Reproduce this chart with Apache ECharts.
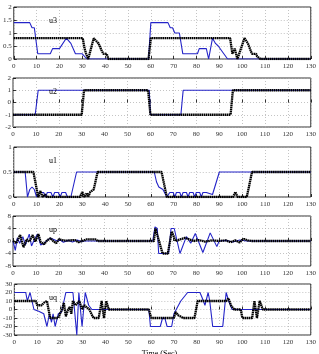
<!DOCTYPE html>
<html>
<head>
<meta charset="utf-8">
<script src="https://cdn.jsdelivr.net/npm/echarts@6/dist/echarts.min.js"></script>
<style>
  html, body { margin: 0; padding: 0; background: #fff; }
  #chart { width: 319px; height: 354px; }
</style>
</head>
<body>
<div id="chart"></div>
<script>
// time axis, seconds
var timeTicks = [0, 10, 20, 30, 40, 50, 60, 70, 80, 90, 100, 110, 120, 130];

// u3 : blue = reference, black = dotted response
var u3Blue = [[0,1.4],[7,1.4],[8,1.2],[9,1.2],[10.5,0.2],[16,0.2],[17,0.4],[20,0.4],[23,0.8],[25,0.6],[27,0.2],[30,0.2],[32,0],[59,0],[60,1.4],[67.5,1.4],[68.5,1.2],[69.5,1.2],[70.5,1.0],[72.5,1.0],[74,0.2],[80.4,0.2],[81.2,0.4],[84.3,0.4],[85.3,0],[87,0.8],[88.3,0.6],[89.5,0.5],[93.6,0],[130,0]];
var u3Black = [[0,0.8],[30.2,0.8],[31,0.4],[31.7,0.2],[32.6,0],[35,0.8],[35.5,0.85],[37.1,0.6],[38.6,0.3],[39.3,0.2],[40.7,0.2],[41.4,0],[59,0],[60,0.8],[94.7,0.8],[95.7,0.2],[96.7,0.4],[97.9,0],[101,0.8],[102.5,0.6],[103.8,0.3],[104.3,0.2],[106.1,0.2],[106.5,0.1],[108,0],[130,0]];

// u2
var u2Blue = [[0,-1],[9.7,-1],[11,1],[59.5,1],[60,-1],[73.3,-1],[74.3,1],[130,1]];
var u2Black = [[0,-1],[30,-1],[31,1],[59,1],[60,-1],[95,-1],[96,1],[130,1]];

// u1
var u1Blue = [[0,0.5],[5,0.5],[6,0],[7,0.15],[8,0.2],[9,0.15],[10,0],[10.7,0],[11.5,0.09],[12.3,0.12],[13.1,0.09],[13.9,0],[14.7,0.09],[15.5,0.12],[16.3,0.09],[17.1,0],[17.9,0.09],[18.7,0.12],[19.5,0.09],[20.3,0],[21.1,0.09],[21.9,0.12],[22.7,0.09],[23.5,0],[25,0],[27.5,0.5],[61.5,0.5],[62.5,0.3],[63.5,0.2],[65.3,0.15],[67,0],[67.6,0],[68.3,0.09],[69,0.12],[69.8,0.09],[70.5,0],[71.2,0.09],[71.9,0.12],[72.7,0.09],[73.4,0],[74.1,0.09],[74.8,0.12],[75.6,0.09],[76.3,0],[77,0.09],[77.7,0.12],[78.5,0.09],[79.2,0],[79.9,0.09],[80.6,0.12],[81.4,0.09],[82.1,0],[82.8,0.09],[83.5,0.12],[84.3,0.09],[85,0.05],[87,0.05],[90,0.5],[130,0.5]];
var u1Black = [[0,0.5],[8.6,0.5],[10.7,0],[11.7,0.12],[12.6,0],[13.7,0.05],[14.5,0],[29,0],[30,0.1],[31,0],[32,0.08],[32.5,0],[33.5,0.1],[35,0.15],[36.7,0.5],[64.7,0.5],[67,0],[96,0],[97,0.1],[98,0],[102,0],[104.3,0.5],[130,0.5]];

// up
var upBlue = [[0,0],[1,-3],[1.9,1],[2.9,-0.7],[4.3,1.4],[5.4,-1.3],[7.1,2.2],[8.1,-1.6],[9.3,0.5],[10.7,2.2],[12.1,-1.3],[13.6,-0.7],[15,0.3],[16.4,0.9],[17.8,0.5],[19.3,0],[20.7,0.3],[22,-0.4],[24,0.2],[26,-0.3],[28,0.3],[30,-0.2],[31,0],[61,0],[62,4.5],[63,4],[63.6,-4],[67.9,-4],[69,4],[70.4,4],[72.9,-4],[75.7,1.4],[77.6,-0.7],[79.6,2.4],[82.9,-3.7],[86.1,2.6],[89,-1.8],[90,0],[93,0.2],[96,-0.3],[99,0.3],[102,0],[130,0]];
var upBlack = [[0,0],[1.4,-0.7],[3.1,1.9],[4.6,-2],[6,0.5],[7.1,-0.2],[8.6,1.9],[9.7,-0.2],[11.1,2.2],[12.1,-0.4],[13.6,-1],[15,0.3],[16.4,0.9],[17.8,-0.2],[18.9,-0.7],[20,0.5],[22.9,0.1],[27,0.3],[28.6,-0.4],[30.7,0.1],[32,0.5],[36,0.5],[37,0],[61.5,0],[62.2,4],[63,4],[65.3,-4],[67.6,-4],[69.3,3],[71,0],[73,0.5],[75,1],[77,0.5],[79,0],[81,0.3],[84,-0.2],[87,0.2],[90,0],[93,0.2],[95,-0.4],[97,0.2],[99,-0.5],[100,0.3],[101,0.6],[102.5,0.2],[104,0],[130,0]];

// uq
var uqBlue = [[0,20],[5,20],[5.7,10],[6.9,20],[8.6,0],[10.7,-2],[12.9,-5],[14.3,-20],[15.4,-5],[16.3,-15],[17,-5],[17.9,-20],[19.3,-5],[20.7,-3],[22.6,20],[25.7,20],[27.4,-30],[28.3,20],[29.7,-20],[31.1,20],[32.6,5],[34,0],[59,0],[59.7,-20],[64,-20],[65,-10],[66,-10],[67,-20],[69,-20],[70,-5],[71,0],[72,5],[73,10],[74.5,15],[76,20],[81.4,20],[82.2,15],[83.6,5],[85,20],[85.7,10],[87,-20],[91.4,-20],[92.9,20],[94,10],[95.5,0],[130,0]];
var uqBlack = [[0,10],[9.5,10],[10,5],[12,5],[13,8],[14.3,10],[15.7,-10],[19.3,-10],[20,-5],[21,0],[21.7,8],[22.6,-8],[23.6,0],[24.3,3],[25,-5],[25.7,10],[26.8,5],[28.5,10],[29.7,0],[30.7,5],[32.9,0],[34.7,-10],[37,-10],[38.3,10],[39.3,-10],[40.3,10],[41.4,0],[59,0],[60,-10],[70,-10],[70.7,-3],[72,-7],[74,-10],[79,-10],[80.4,10],[92.9,10],[93.9,13],[95,5],[96.4,0],[99.3,0],[100,-10],[104.3,-10],[105.3,10],[106.4,-10],[107.6,10],[109,0],[130,0]];

var panelNames = ['u3', 'u2', 'u1', 'up', 'uq'];
var yMins = [0, -2, 0, -8, -30];
var yMaxs = [2, 2, 1, 8, 30];
var yStep = [0.5, 1, 0.5, 4, 10];
var blues = [u3Blue, u2Blue, u1Blue, upBlue, uqBlue];
var blacks = [u3Black, u2Black, u1Black, upBlack, uqBlack];

var tops = [7, 78, 147, 216, 284];
var heights = [52, 49, 50, 50, 51];

var font = 'Liberation Serif';
var chart = echarts.init(document.getElementById('chart'));

var grids = [], xAxes = [], yAxes = [], series = [], titles = [];
for (var i = 0; i < 5; i++) {
  grids.push({
    left: 13, right: 6, top: tops[i], height: heights[i],
    show: true, borderColor: '#000', borderWidth: 0.8, backgroundColor: 'transparent'
  });
  xAxes.push({
    type: 'value', gridIndex: i, min: 0, max: timeTicks[timeTicks.length - 1], interval: 10,
    axisLine: { show: false },
    axisTick: { inside: true, length: 3, lineStyle: { color: '#000', width: 0.8 } },
    axisLabel: { fontFamily: font, fontSize: 7, color: '#333', margin: 4, hideOverlap: false },
    splitLine: { show: true, lineStyle: { color: '#aaa', type: [1, 2], width: 0.7 } }
  });
  yAxes.push({
    type: 'value', gridIndex: i, min: yMins[i], max: yMaxs[i], interval: yStep[i],
    axisLine: { show: false },
    axisTick: { inside: true, length: 3, lineStyle: { color: '#000', width: 0.8 } },
    axisLabel: { fontFamily: font, fontSize: 7, color: '#333', margin: 2 },
    splitLine: { show: true, lineStyle: { color: '#aaa', type: [1, 2], width: 0.7 } }
  });
  series.push({
    type: 'line', xAxisIndex: i, yAxisIndex: i, data: blues[i],
    showSymbol: false, animation: false, z: 2,
    lineStyle: { color: '#2424c8', width: 1.1 }
  });
  series.push({
    type: 'line', xAxisIndex: i, yAxisIndex: i, data: blacks[i],
    showSymbol: false, animation: false, z: 3,
    lineStyle: { color: '#000', width: 2.3, type: [1.6, 0.5] }
  });
  titles.push({
    text: panelNames[i], left: 44, top: tops[i] + 5,
    textStyle: { fontFamily: font, fontSize: 8, fontWeight: 'normal', color: '#000' }
  });
}
titles.push({
  text: 'Time (Sec)', left: 'center', top: 345,
  textStyle: { fontFamily: font, fontSize: 8, fontWeight: 'normal', color: '#000' }
});

chart.setOption({
  animation: false,
  title: titles,
  grid: grids,
  xAxis: xAxes,
  yAxis: yAxes,
  series: series
});
</script>
</body>
</html>
